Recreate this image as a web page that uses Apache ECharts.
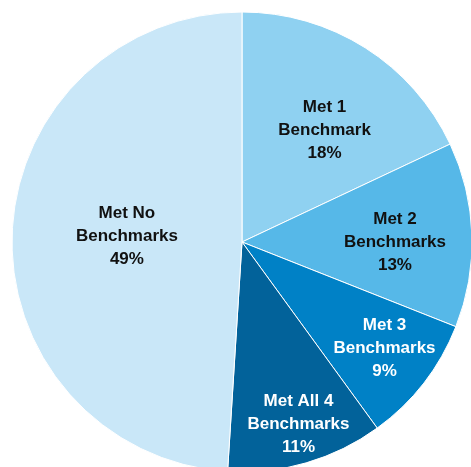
<!DOCTYPE html>
<html><head><meta charset="utf-8">
<script src="https://cdn.jsdelivr.net/npm/echarts@6/dist/echarts.min.js"></script>
<style>html,body{margin:0;padding:0;background:#fff}#c{width:471px;height:467px}</style>
</head><body><div id="c"></div>
<script>
var categories = ['Met 1\nBenchmark', 'Met 2\nBenchmarks', 'Met 3\nBenchmarks', 'Met All 4\nBenchmarks', 'Met No\nBenchmarks'];
var values = [18, 13, 9, 11, 49];
var colors = ['#8fd1f1', '#56b8e8', '#0081c6', '#02629a', '#c9e7f8'];
var textColors = ['#111', '#111', '#fff', '#fff', '#111'];
// label placement (style): radius fraction and angle in degrees, clockwise from top
var labelRadiusFrac = [0.592, 0.652, 0.760, 0.818, 0.488];
var labelAngle = [36.5, 90.0, 126.7, 162.8, 273.1];

var R = 230;
var total = values.reduce(function(a,b){return a+b;},0);
var cum = 0;
var data = categories.map(function(name, i){
  var mid = (cum + values[i]/2) / total * 2 * Math.PI;
  cum += values[i];
  var base = [Math.sin(mid) * R / 2, -Math.cos(mid) * R / 2];
  var a = labelAngle[i] * Math.PI / 180, r = labelRadiusFrac[i] * R;
  var target = [Math.sin(a) * r, -Math.cos(a) * r];
  return {
    name: name, value: values[i],
    itemStyle: {color: colors[i]},
    label: {color: textColors[i], offset: [target[0] - base[0], target[1] - base[1]]}
  };
});

var chart = echarts.init(document.getElementById('c'));
chart.setOption({
  animation: false,
  series: [{
    type: 'pie',
    center: [242, 242],
    radius: [0, R],
    startAngle: 90,
    clockwise: true,
    itemStyle: {borderColor: '#fff', borderWidth: 1},
    label: {
      show: true, position: 'inside',
      formatter: function(p){ return p.name + '\n' + p.value + '%'; },
      fontFamily: 'Liberation Sans, Arial, sans-serif',
      fontWeight: 'bold', fontSize: 17, lineHeight: 23, align: 'center'
    },
    labelLine: {show: false},
    emphasis: {disabled: true},
    data: data
  }]
});
</script></body></html>
